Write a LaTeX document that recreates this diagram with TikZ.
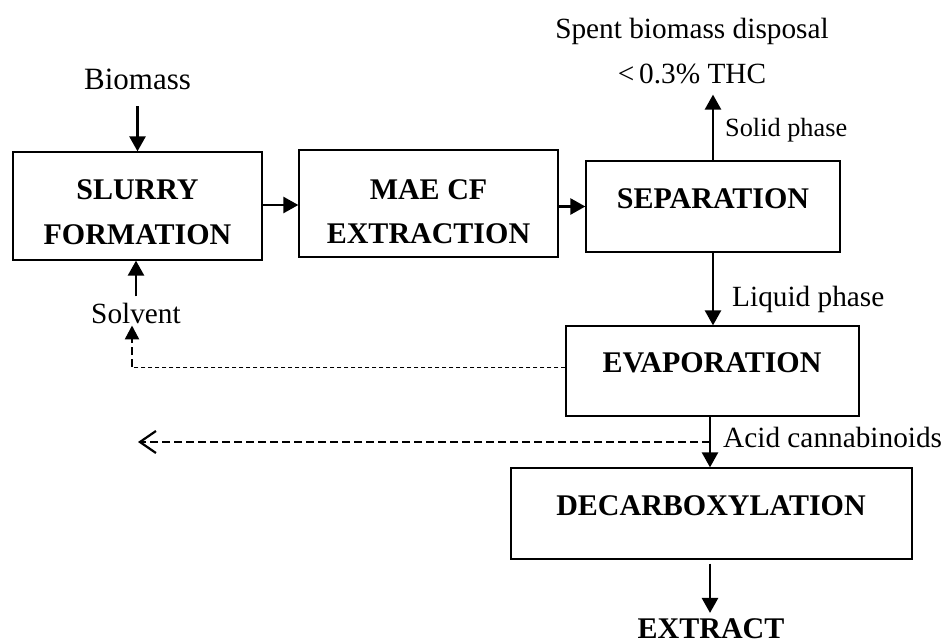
\documentclass[tikz,border=0pt]{standalone}
\usepackage{fontspec}
\setmainfont{Liberation Serif}
\usetikzlibrary{arrows.meta,calc}
\begin{document}
\begin{tikzpicture}[x=1pt,y=-1pt,
  box/.style={draw, line width=1.3pt, inner sep=0pt},
  btxt/.style={font=\fontsize{30}{34}\selectfont\bfseries, inner sep=0pt, anchor=base},
  lab/.style={font=\fontsize{29.3}{33}\selectfont, inner sep=0pt},
  arr/.style={line width=2.6pt, -{Triangle[length=15pt,width=16pt]}},
  thindash/.style={line width=1pt, dash pattern=on 4pt off 3pt},
  dasharr/.style={line width=2.4pt, dash pattern=on 8pt off 4pt, -{Triangle[length=14pt,width=14pt]}},
  recarr/.style={line width=2.2pt, dash pattern=on 8pt off 4pt, -{Straight Barb[length=16pt,width=22pt,line width=2.2pt]}}]
\fill[white] (0,0) rectangle (943,643);
\useasboundingbox (0,0) rectangle (943,643);

% boxes
\node[box, minimum width=249pt, minimum height=108pt] (slurry) at (137.5,206) {};
\node[box, minimum width=259pt, minimum height=107pt] (mae) at (428.5,203.5) {};
\node[box, minimum width=254pt, minimum height=91pt] (sep) at (713,206.5) {};
\node[box, minimum width=293pt, minimum height=90pt] (evap) at (712.5,371) {};
\node[box, minimum width=401pt, minimum height=91pt] (decarb) at (711.5,513.5) {};

% box texts
\node[btxt] (slurryA) at (137.5,199) {SLURRY};
\node[btxt] (slurryB) at (137.5,244) {FORMATION};
\node[btxt] (maeA) at (428.5,199) {MAE CF};
\node[btxt] (maeB) at (428.5,243) {EXTRACTION};
\node[btxt] (sepT) at (713,208) {SEPARATION};
\node[btxt] (evapT) at (712,372) {EVAPORATION};
\node[btxt] (decarbT) at (711,515) {DECARBOXYLATION};
\node[btxt] (extract) at (711,638) {EXTRACT};

% labels
\node[lab, anchor=base, font=\fontsize{31}{35}\selectfont] (biomass) at (137.5,89) {Biomass};
\node[lab, anchor=base] (spent) at (692,38) {Spent biomass disposal};
\node[lab, anchor=base] (thc) at (692,83) {<\,0.3\% THC};
\node[lab, anchor=base west, font=\fontsize{26.3}{30}\selectfont] (solid) at (725,136) {Solid phase};
\node[lab, anchor=base west] (liquid) at (732,306) {Liquid phase};
\node[lab, anchor=base] (solvent) at (136,323) {Solvent};
\node[lab, anchor=base west] (acid) at (723,447) {Acid cannabinoids};

% connectors
\draw[arr] ($(slurry.north)+(0,-45)$) -- (slurry.north);
\draw[arr] (slurry.east |- 0,205) -- (mae.west |- 0,205);
\draw[arr] (mae.east |- sep.west) -- (sep.west);
\draw[arr] (sep.north) -- ($(thc.south -| sep.north)+(0,11)$);
\draw[arr] (sep.south) -- (sep.south |- evap.north);
\draw[arr] (evap.south -| 710,0) -- (decarb.north -| 710,0);
\draw[arr] ($(decarb.south -| 710,0)+(0,4)$) -- ($(extract.north -| 710,0)+(0,-5)$);
\draw[arr] ($(solvent.north)+(0,-6)$) -- (slurry.south -| solvent.north);

\coordinate (rc) at (132,367);
\draw[thindash] (evap.west |- rc) -- (rc);
\draw[dasharr] (rc) -- ($(solvent.south -| rc)+(0,2)$);

\coordinate (ac) at (710,442);
\coordinate (recyc) at (138,442);
\draw[recarr] (ac) -- (recyc);
\end{tikzpicture}
\end{document}
